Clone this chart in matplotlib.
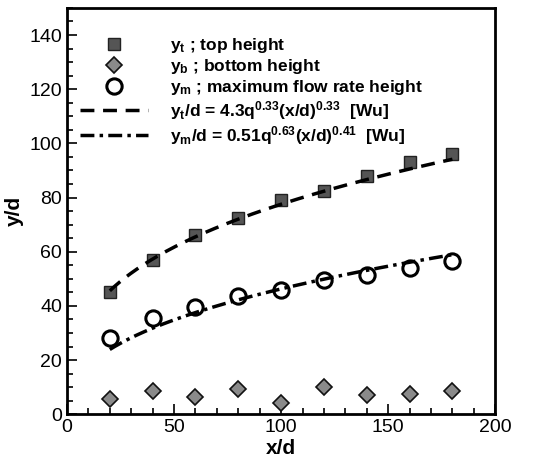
import numpy as np
import matplotlib.pyplot as plt

plt.rcParams["font.family"] = ["Liberation Sans", "DejaVu Sans"]
plt.rcParams["mathtext.fontset"] = "custom"
plt.rcParams["mathtext.rm"] = "Liberation Sans:bold"
plt.rcParams["mathtext.it"] = "Liberation Sans:bold"
plt.rcParams["mathtext.bf"] = "Liberation Sans:bold"

# 측정 위치 x/d
x_d = [20, 40, 60, 80, 100, 120, 140, 160, 180]
# 측정값
y_top = [45, 57, 66, 72.5, 79, 82.5, 88, 93, 96]
y_bottom = [5.5, 8.5, 6.5, 9.5, 4, 10, 7, 7.5, 8.5]
y_max = [28, 35.5, 39.5, 43.5, 46, 49.5, 51.5, 54, 56.5]

# Wu 상관식 계수
q = 64
wu_top = (4.3, 0.33, 0.33)
wu_max = (0.51, 0.63, 0.41)

fig = plt.figure(figsize=(5.38, 4.66), dpi=100)
ax = fig.add_axes([0.1245, 0.111, 0.796, 0.872])

xs = np.linspace(20, 180, 200)
c, a, b = wu_top
fit_top = c * q ** a * xs ** b
c, a, b = wu_max
fit_max = c * q ** a * xs ** b

ax.plot(x_d, y_top, "s", ms=9, mfc="#555555", mec="#222222", mew=1.0,
        label=r"y$_t$ ; top height")
ax.plot(x_d, y_bottom, "D", ms=8, mfc="#8a8a8a", mec="#111111", mew=1.2,
        label=r"y$_b$ ; bottom height")
ax.plot(x_d, y_max, "o", ms=11, mfc="white", mec="black", mew=2.2,
        label=r"y$_m$ ; maximum flow rate height")
ax.plot(xs, fit_top, color="black", lw=2.5, ls=(0, (4, 2.5)),
        label=r"y$_t$/d = 4.3q$^{0.33}$(x/d)$^{0.33}$  [Wu]")
ax.plot(xs, fit_max, color="black", lw=2.5, ls=(0, (4, 1.5, 1, 1.5)),
        label=r"y$_m$/d = 0.51q$^{0.63}$(x/d)$^{0.41}$  [Wu]")

ax.set_xlim(0, 200)
ax.set_ylim(0, 150)
ax.set_xticks([0, 50, 100, 150, 200])
ax.set_yticks([0, 20, 40, 60, 80, 100, 120, 140])
ax.set_xticks(np.arange(0, 201, 10), minor=True)
ax.set_yticks(np.arange(0, 151, 5), minor=True)
ax.tick_params(which="both", direction="in", top=False, right=False,
               labelsize=14, width=1.2)
ax.tick_params(which="major", length=7)
ax.tick_params(which="minor", length=4)
for s in ax.spines.values():
    s.set_linewidth(2)

ax.set_xlabel("x/d", fontsize=15, fontweight="bold", labelpad=2)
ax.set_ylabel("y/d", fontsize=15, fontweight="bold", labelpad=4)

leg = ax.legend(loc="upper left", bbox_to_anchor=(-0.007, 0.97), frameon=False,
                handlelength=3.95, handletextpad=1.25, labelspacing=0.12,
                prop={"weight": "bold", "size": 12.5})

fig.savefig("out.png", dpi=100)
